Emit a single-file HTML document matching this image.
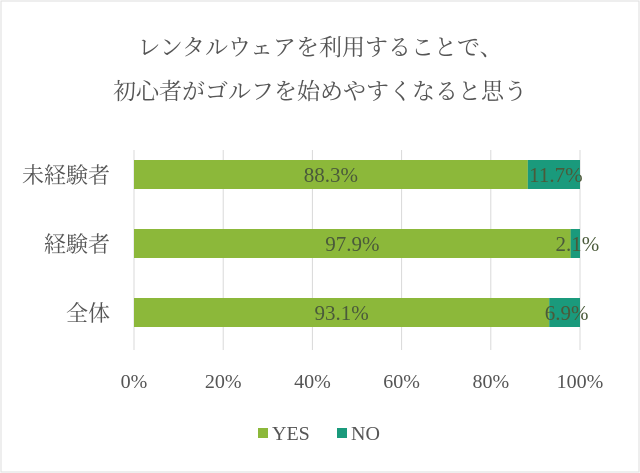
<!DOCTYPE html>
<html><head><meta charset="utf-8"><style>
html,body{margin:0;padding:0;background:#fff;}
#c{position:relative;width:640px;height:473px;overflow:hidden;background:#fff;font-family:"Liberation Serif","Noto Serif CJK JP",serif;color:#555;}
svg text{font-family:"Liberation Serif","Noto Serif CJK JP",serif;}
</style></head><body>
<div id="c">
<svg width="640" height="473">
<rect x="1" y="1" width="638" height="471" fill="none" stroke="#ddd"/>
<text x="320" y="55" text-anchor="middle" font-size="23" fill="#555">レンタルウェアを利用することで、</text>
<text x="320" y="99" text-anchor="middle" font-size="23" fill="#555">初心者がゴルフを始めやすくなると思う</text>
<g id="grid"></g><g id="bars"></g><g id="axis"></g>
<g>
<rect x="258" y="428" width="10" height="10" fill="#8cb83a"/>
<text x="272" y="440" font-size="20" fill="#555">YES</text>
<rect x="337" y="428" width="10" height="10" fill="#1a9a7c"/>
<text x="351" y="440" font-size="20" fill="#555">NO</text>
</g>
</svg>
</div>
<script>
const categories=["未経験者","経験者","全体"];
const yesValues=[88.3,97.9,93.1];
const noValues=[11.7,2.1,6.9];
const ticks=[0,20,40,60,80,100];
const NS="http://www.w3.org/2000/svg";
const X0=134,X1=580,Y0=158,ROW=69,BH=29;
const x=v=>X0+(X1-X0)*v/100;
const y=i=>Y0+i*ROW+ (ROW-BH)/2 - 18;
function mk(t,a,p){const e=document.createElementNS(NS,t);for(const k in a)e.setAttribute(k,a[k]);p.appendChild(e);return e;}
const g=document.getElementById('grid'),b=document.getElementById('bars'),ax=document.getElementById('axis');
ticks.forEach((t,i)=>{
 const l=mk('line',{x1:x(t),x2:x(t),y1:150,y2:350,stroke:'#d9d9d9','stroke-width':1},g);
 
 
 const tx=mk('text',{x:x(t),y:388,'text-anchor':'middle','font-size':20,fill:'#555'},ax);
 tx.textContent=t+'%';
 
 
});
categories.forEach((c,i)=>{
 const yy=y(i);
 const ry=mk('rect',{x:x(0),y:yy,width:x(yesValues[i])-x(0),height:BH,fill:'#8cb83a'},b);
 
 
 const rn=mk('rect',{x:x(yesValues[i]),y:yy,width:x(yesValues[i]+noValues[i])-x(yesValues[i]),height:BH,fill:'#1a9a7c'},b);
 
 
 const ly=mk('text',{x:(x(0)+x(yesValues[i]))/2,y:yy+22,'text-anchor':'middle','font-size':21,fill:'#4a5a3a'},b);
 ly.textContent=yesValues[i].toFixed(1)+'%';
 
 
 const ln=mk('text',{x:(x(yesValues[i])+x(100))/2+2,y:yy+22,'text-anchor':'middle','font-size':21,fill:'#4a5a3a'},b);
 ln.textContent=noValues[i].toFixed(1)+'%';
 
 
 const cl=mk('text',{x:110,y:yy+23,'text-anchor':'end','font-size':22,fill:'#555'},ax);
 cl.textContent=c;
 
 
});
</script>
</body></html>
